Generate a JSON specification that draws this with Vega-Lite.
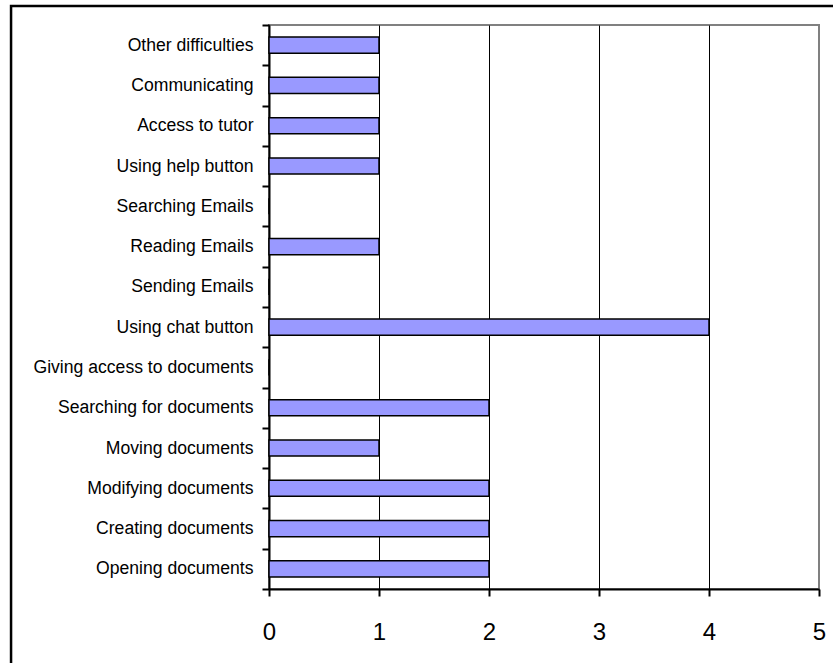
{
  "$schema": "https://vega.github.io/schema/vega-lite/v6.json",
  "autosize": {"type": "none"},
  "padding": {"left": 269, "top": 25, "right": 14, "bottom": 74},
  "width": 550,
  "height": 564,
  "background": "white",
  "config": {
    "font": "Liberation Sans",
    "view": {"stroke": "#808080", "strokeWidth": 2}
  },
  "layer": [
    {
      "data": {"values": [{"left": -2.345, "right": 6, "top": 1.0337, "bottom": -0.3}]},
      "mark": {"type": "rect", "fill": null, "stroke": "black", "strokeWidth": 2.5},
      "encoding": {
        "x": {"field": "left", "type": "quantitative", "title": null},
        "x2": {"field": "right"},
        "y": {"field": "top", "type": "quantitative", "scale": {"domain": [0, 1], "nice": false, "zero": false}, "axis": null},
        "y2": {"field": "bottom"}
      }
    },
    {
      "data": {
        "values": [
          {"task": "Other difficulties", "count": 1},
          {"task": "Communicating", "count": 1},
          {"task": "Access to tutor", "count": 1},
          {"task": "Using help button", "count": 1},
          {"task": "Searching Emails", "count": 0},
          {"task": "Reading Emails", "count": 1},
          {"task": "Sending Emails", "count": 0},
          {"task": "Using chat button", "count": 4},
          {"task": "Giving access to documents", "count": 0},
          {"task": "Searching for documents", "count": 2},
          {"task": "Moving documents", "count": 1},
          {"task": "Modifying documents", "count": 2},
          {"task": "Creating documents", "count": 2},
          {"task": "Opening documents", "count": 2}
        ]
      },
      "mark": {"type": "bar", "fill": "#9999ff", "stroke": "black", "strokeWidth": 1.5, "height": {"band": 0.4}},
      "encoding": {
        "y": {
          "field": "task",
          "type": "nominal",
          "sort": null,
          "scale": {"paddingInner": 0, "paddingOuter": 0},
          "axis": {
            "title": null,
            "tickBand": "extent",
            "tickSize": 7,
            "tickWidth": 2,
            "tickColor": "black",
            "domainColor": "black",
            "domainWidth": 2,
            "labelFontSize": 17.6,
            "labelColor": "black",
            "labelPadding": 9,
            "labelLimit": 400,
            "grid": false
          }
        },
        "x": {
          "field": "count",
          "type": "quantitative",
          "scale": {"domain": [0, 5], "nice": false},
          "axis": {
            "title": null,
            "values": [0, 1, 2, 3, 4, 5],
            "format": "d",
            "grid": true,
            "gridColor": {"condition": {"test": "datum.value === 5", "value": "#808080"}, "value": "black"},
            "gridWidth": 1,
            "tickSize": 7,
            "tickWidth": 2,
            "tickColor": "black",
            "domainColor": "black",
            "domainWidth": 2,
            "labelFontSize": 24,
            "labelColor": "black",
            "labelPadding": 24,
            "labelFlush": false
          }
        }
      }
    }
  ],
  "resolve": {"scale": {"y": "independent"}, "axis": {"y": "independent"}}
}
